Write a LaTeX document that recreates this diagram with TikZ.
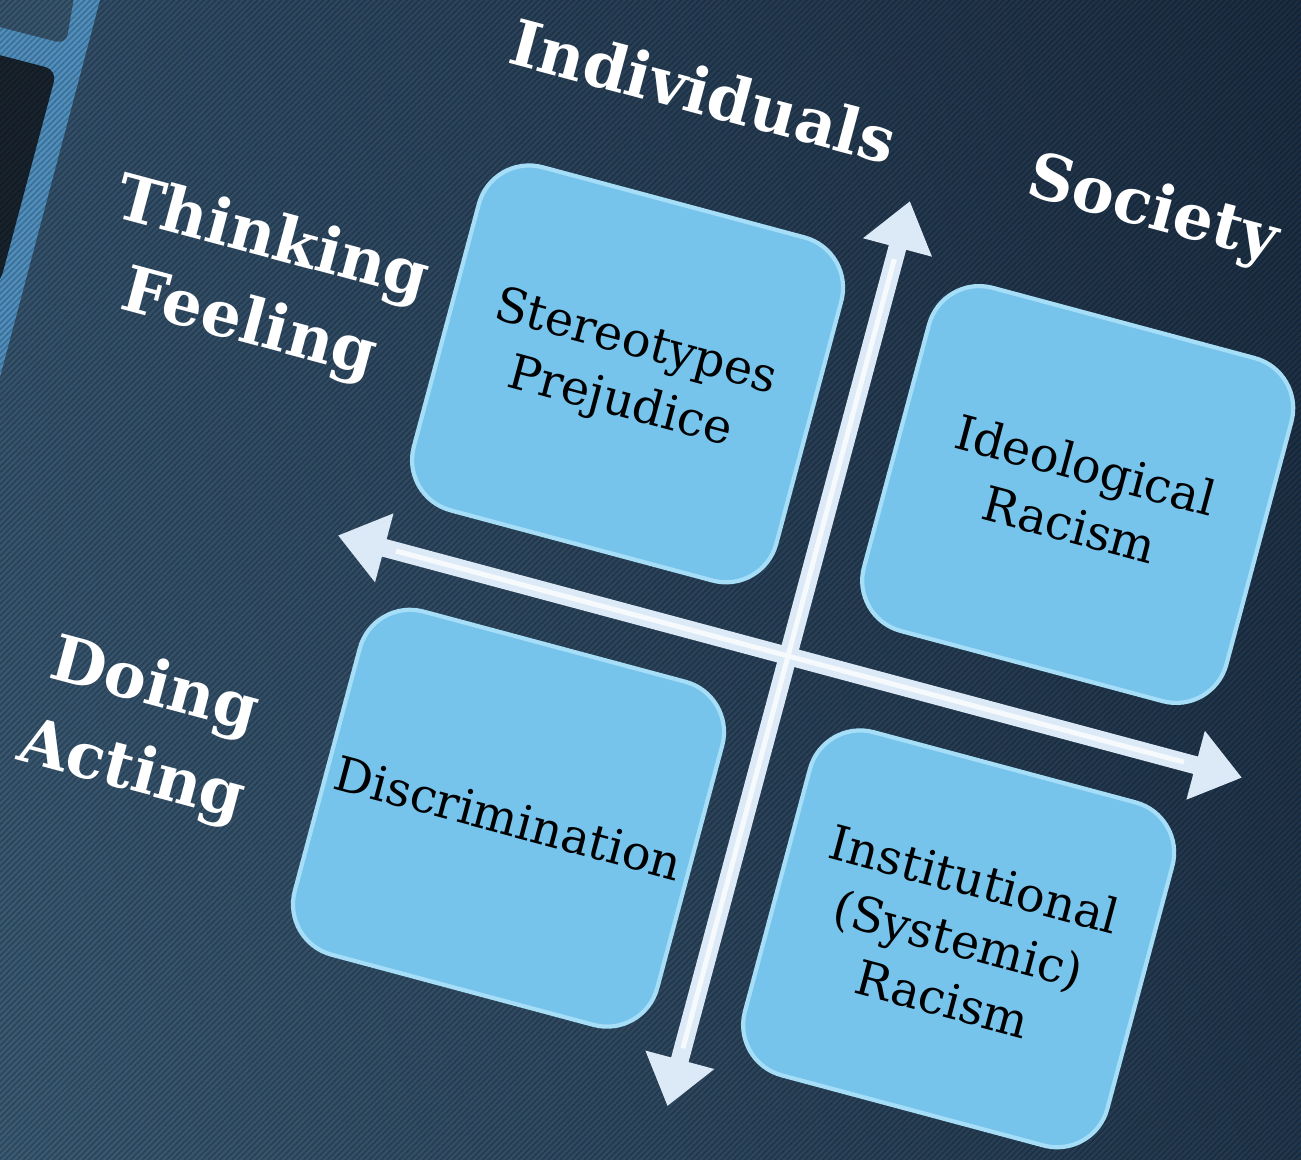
\documentclass[tikz,border=0pt]{standalone}
\usepackage{fontspec}
\setmainfont{DejaVu Serif}
\usetikzlibrary{arrows.meta,patterns.meta,shadings}
\definecolor{bgUL}{HTML}{33506A}
\definecolor{bgUR}{HTML}{1B2D42}
\definecolor{bgLL}{HTML}{3B5A73}
\definecolor{bgLR}{HTML}{21374D}
\definecolor{framebl}{HTML}{4F8EBD}
\definecolor{framedark}{HTML}{18232E}
\definecolor{frametop}{HTML}{38556E}
\definecolor{boxblue}{HTML}{76C3EC}
\definecolor{boxedge}{HTML}{A6DDF7}
\definecolor{arrowc}{HTML}{DCE9F7}
\tikzset{
  quad/.style={rectangle, rounded corners=0.52cm, minimum width=3.75cm, minimum height=3.55cm,
    fill=boxblue, draw=boxedge, line width=1.2pt, text=black, align=center,
    font=\fontsize{13.6}{17.6}\selectfont, inner sep=0pt},
  headlbl/.style={text=white, align=center, font=\fontsize{18}{25}\selectfont\bfseries, inner sep=0pt},
  axis/.style={draw=arrowc, line width=0.18cm,
    {Triangle[length=0.48cm,width=0.68cm]}-{Triangle[length=0.48cm,width=0.68cm]}},
  axishl/.style={draw=white!75!arrowc, line width=0.05cm, shorten >=0.6cm, shorten <=0.6cm}
}
\begin{document}
\begin{tikzpicture}[x=0.01cm,y=-0.01cm]
\useasboundingbox (0,0) rectangle (1301,1159);
% background
\shade[upper left=bgUL, upper right=bgUR, lower left=bgLL, lower right=bgLR] (0,0) rectangle (1301,1159);
% left frame of a neighbouring panel
\fill[framebl] (100,0) -- (0,377) -- (0,0) -- cycle;
\fill[frametop, rounded corners=0.1cm] (-20,-20) -- (77,-20) -- (66,44) -- (-20,22) -- cycle;
\fill[framedark, rounded corners=0.12cm] (-20,50) -- (57,70) -- (0,283) -- (-20,300) -- cycle;
% stripes
\fill[pattern={Lines[angle=45,distance=1.2pt,line width=0.45pt]}, pattern color=black, opacity=0.22] (0,0) rectangle (1301,1159);
\begin{scope}[shift={(788,656)}, rotate=-15, transform shape]
  % axes
  \coordinate (axL) at (-466,0);
  \coordinate (axR) at (470,0);
  \coordinate (axT) at (0,-471);
  \coordinate (axB) at (0,466);
  \draw[axis] (axB) -- (axT);
  \draw[axis] (axL) -- (axR);
  \draw[axishl] (axB) -- (axT);
  \draw[axishl] (axL) -- (axR);
  % quadrants
  \node[quad] (stereo) at (-228,-231) {Stereotypes\\Prejudice};
  \node[quad] (ideo) at (238,-231) {Ideological\\Racism};
  \node[quad] (discr) at (-228,229) {Discrimination};
  \node[quad] (inst) at (238,229) {Institutional\\(Systemic)\\Racism};
  % headings
  \node[headlbl] (lblInd) at (-228,-524) {Individuals};
  \node[headlbl] (lblSoc) at (237,-524) {Society};
  \node[headlbl] (lblThink) at (-606,-223) {Thinking\\Feeling};
  \node[headlbl] (lblDo) at (-604,239) {Doing\\Acting};
\end{scope}
\end{tikzpicture}
\end{document}
